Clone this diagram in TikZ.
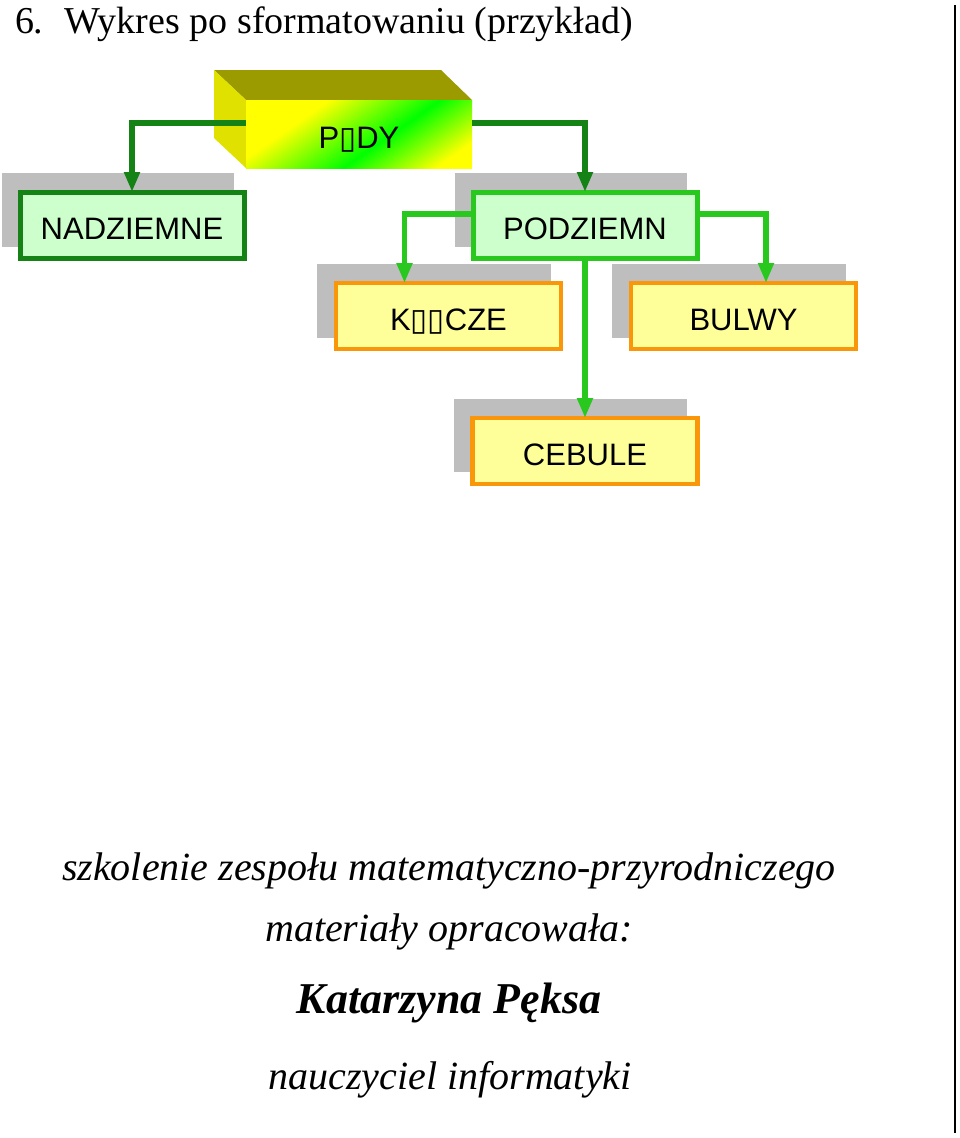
\documentclass[tikz,border=0pt]{standalone}
\usepackage{fontspec}
\setmainfont{Liberation Serif}
\newfontfamily\boxfont{Liberation Sans}
\newfontfamily\symfont{DejaVu Sans}
\usetikzlibrary{arrows.meta}
\definecolor{dkgreen}{RGB}{20,130,20}
\definecolor{brgreen}{RGB}{40,200,30}
\definecolor{ltgreen}{RGB}{204,255,204}
\definecolor{ltyellow}{RGB}{255,255,153}
\definecolor{orangeb}{RGB}{250,150,10}
\definecolor{shadowgray}{RGB}{190,190,190}
\definecolor{olivetop}{RGB}{155,155,0}
\definecolor{yellowside}{RGB}{225,225,0}
\pgfdeclarehorizontalshading{ygy}{100bp}{color(0bp)=(yellow); color(33bp)=(yellow); color(57bp)=(green); color(77bp)=(yellow); color(100bp)=(yellow)}
\newcommand{\mbx}{{\symfont\char"25AF}}
\tikzset{
  every node/.style={inner sep=0pt, outer sep=0pt},
  boxtext/.style={font=\boxfont\fontsize{31}{34}\selectfont, text height=29pt, text depth=0pt},
  greenbox/.style={boxtext, draw=#1, line width=5pt, fill=ltgreen, minimum width=224pt, minimum height=66pt},
  yellowbox/.style={boxtext, draw=orangeb, line width=4.5pt, fill=ltyellow, minimum width=225pt, minimum height=66pt},
  shadowbox/.style={fill=shadowgray},
  conn/.style={line width=5.5pt, line join=miter, #1, -{Triangle[width=15pt,length=20pt]}},
  titletext/.style={font=\fontsize{38}{42}\selectfont, anchor=west},
  bottext/.style={font=\itshape\fontsize{40}{44}\selectfont}
}
\begin{document}
\begin{tikzpicture}[x=1pt,y=-1pt]
\useasboundingbox (0,0) rectangle (960,1138);
\fill[white] (0,0) rectangle (960,1138);
% title
\node[titletext] (title) at (15,24) {6.\hspace{0.55em}Wykres po sformatowaniu (przykład)};
% right line
\draw[line width=2pt] (955,5) -- (955,1133);
% shadows
\fill[shadowbox] (2,173) rectangle (234,247);
\fill[shadowbox] (455,173) rectangle (687,247);
\fill[shadowbox] (317,264) rectangle (551,338);
\fill[shadowbox] (612,264) rectangle (846,338);
\fill[shadowbox] (454,399) rectangle (687,472);
% 3D box
\fill[olivetop] (214,70) -- (441,70) -- (472,100) -- (246,100) -- cycle;
\fill[yellowside] (214,70) -- (246,100) -- (246,168) -- (214,138) -- cycle;
\shade[shading=ygy, shading angle=-55] (246,100) rectangle (472,168);
\node[boxtext, minimum width=226pt, minimum height=68pt] (pedy) at (359,134) {P\mbx DY};
% boxes
\node[greenbox=dkgreen] (nad) at (132,225) {NADZIEMNE};
\node[greenbox=brgreen] (pod) at (585,225) {PODZIEMN};
\node[yellowbox] (kla) at (448.5,316) {K\mbx\mbx CZE};
\node[yellowbox] (bul) at (743.5,316) {BULWY};
\node[yellowbox] (ceb) at (585,451) {CEBULE};
% connectors
\draw[conn=dkgreen] ([yshift=11pt]pedy.west) -| (nad.north);
\draw[conn=dkgreen] ([yshift=11pt]pedy.east) -| (pod.north);
\draw[conn=brgreen] ([yshift=11pt]pod.west) -| ([xshift=-44pt]kla.north);
\draw[conn=brgreen] ([yshift=11pt]pod.east) -| ([xshift=22.5pt]bul.north);
\draw[conn=brgreen] (pod.south) -- (ceb.north);
% bottom texts
\node[bottext] (s1) at (449,871) {szkolenie zespołu matematyczno-przyrodniczego};
\node[bottext] (s2) at (449,932) {materiały opracowała:};
\node[bottext, font=\bfseries\itshape\fontsize{44}{48}\selectfont] (s3) at (449,1003) {Katarzyna Pęksa};
\node[bottext] (s4) at (450,1080) {nauczyciel informatyki};
\end{tikzpicture}
\end{document}
